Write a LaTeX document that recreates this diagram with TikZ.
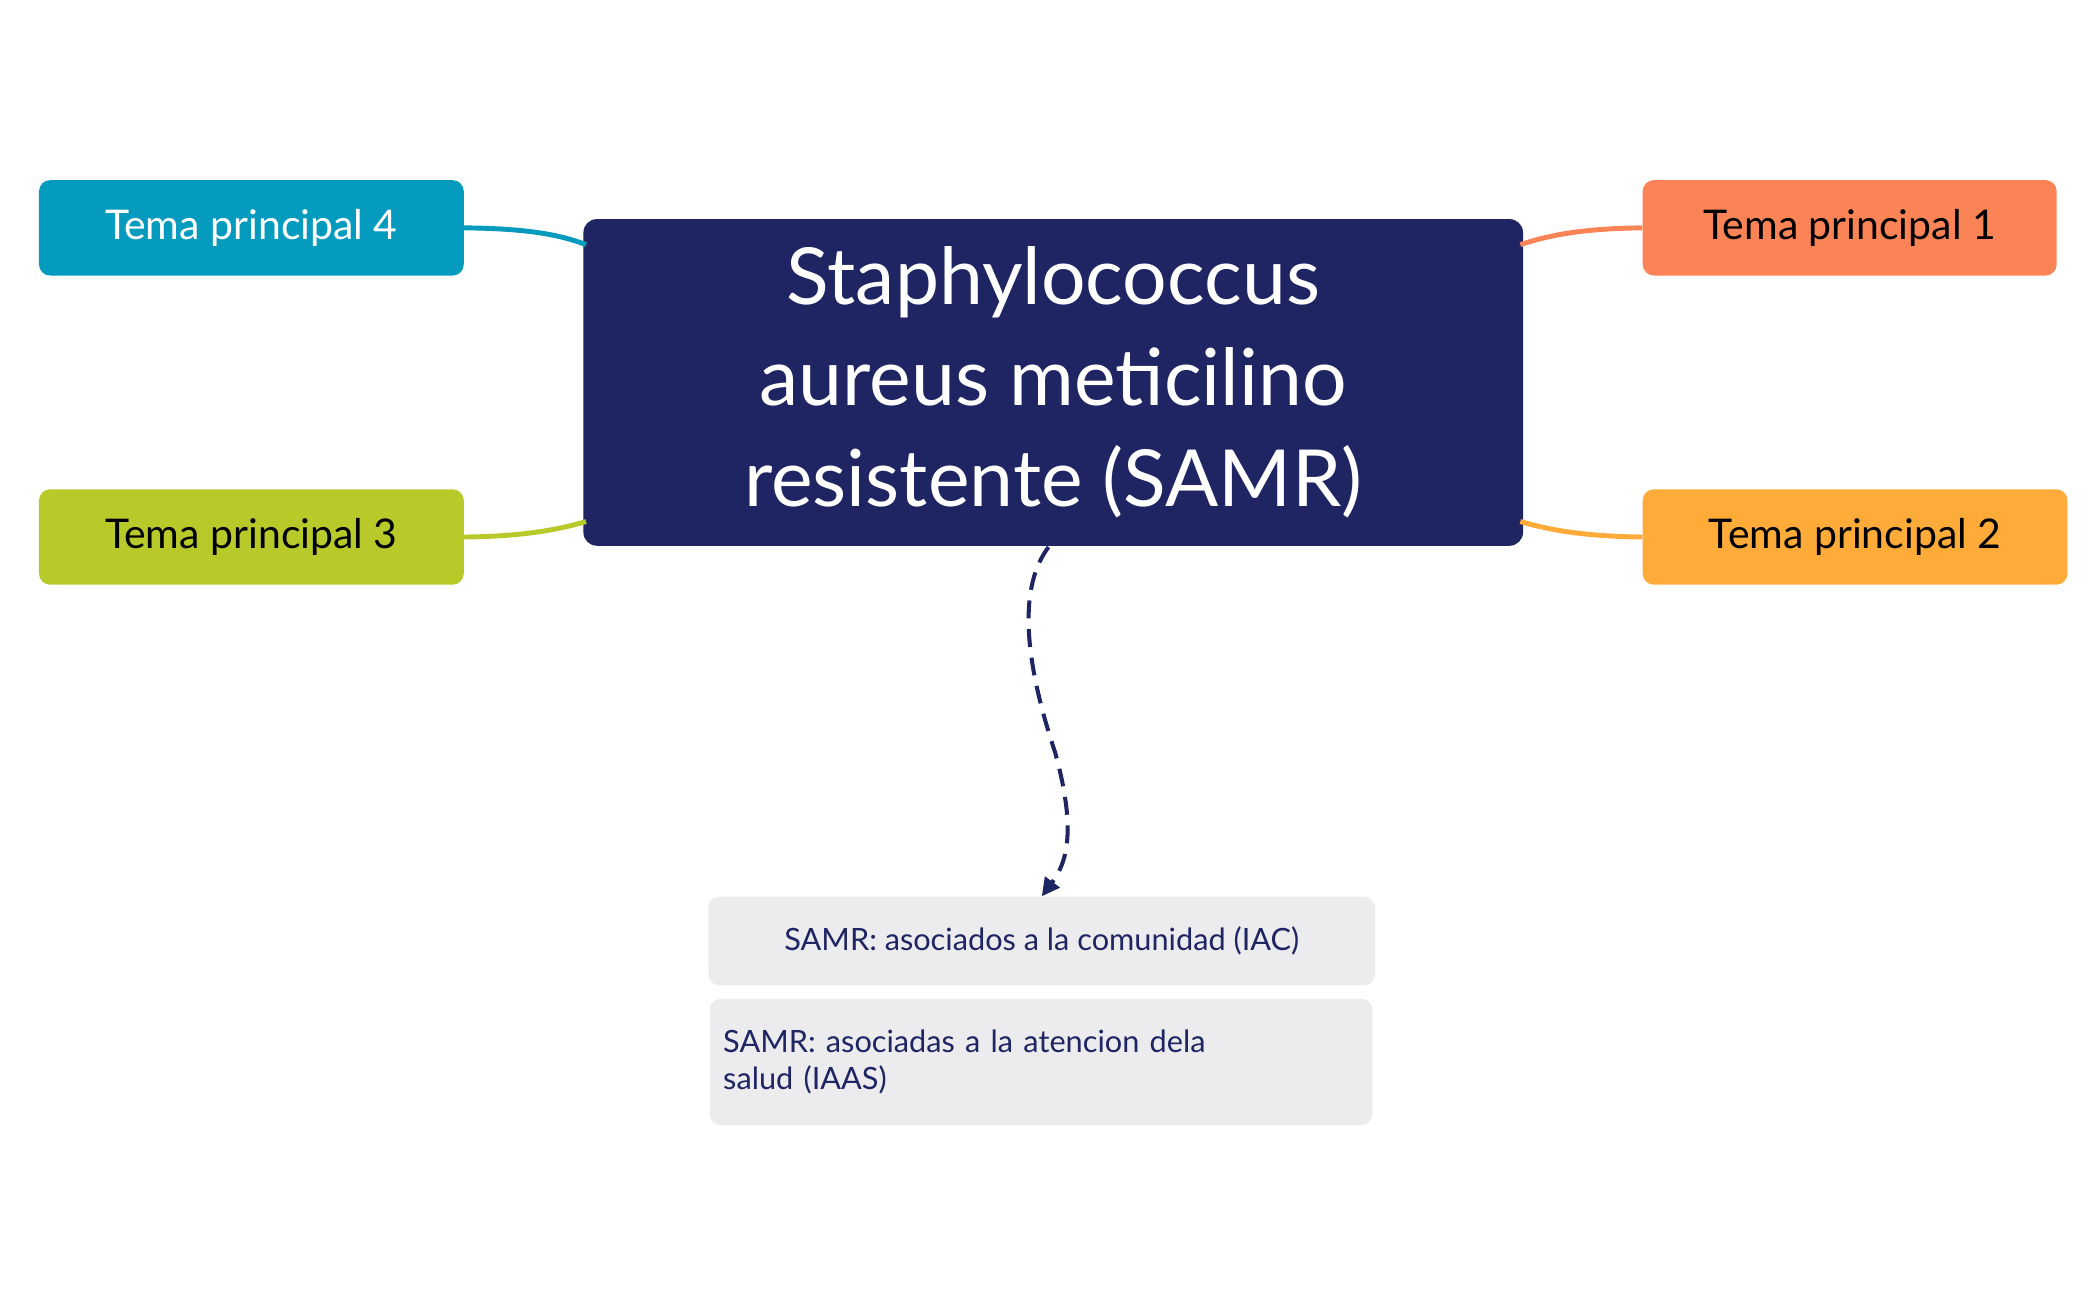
\documentclass[tikz,border=0pt]{standalone}
\usepackage{fontspec}
\setmainfont{Lato}
\usetikzlibrary{calc,arrows.meta}
\definecolor{navy}{HTML}{1F2563}
\definecolor{cblue}{HTML}{059BBE}
\definecolor{cgreen}{HTML}{B8C92A}
\definecolor{corange}{HTML}{FB8457}
\definecolor{cyellow}{HTML}{FEAB3A}
\definecolor{cgray}{HTML}{ECEBEE}
\tikzset{
 topic/.style={rounded corners=2.5mm, minimum height=71*0.3mm, inner sep=0pt, font=\fontsize{26}{30}\selectfont},
 sub/.style={fill=cgray, rounded corners=2.5mm, inner sep=0pt, font=\fontsize{19.5}{23}\selectfont, text=navy},
 link/.style={line width=1.1mm}
}
\begin{document}
\begin{tikzpicture}[x=0.3mm,y=-0.3mm]
\useasboundingbox (0,0) rectangle (1560,967);
\node[fill=navy, rounded corners=3mm, minimum width=699*0.3mm, minimum height=243*0.3mm, text=white, align=center, font=\fontsize{50}{64}\selectfont, inner sep=0pt] (c) at (783.5,284.5) {Staphylococcus\\aureus meticilino\\resistente (SAMR)};
\node[topic, fill=cblue, text=white, minimum width=316*0.3mm] (t4) at (187,169.5) {Tema principal 4};
\node[topic, fill=cgreen, minimum width=316*0.3mm] (t3) at (187,399.5) {Tema principal 3};
\node[topic, fill=corange, minimum width=308*0.3mm] (t1) at (1376,169.5) {Tema principal 1};
\node[topic, fill=cyellow, minimum width=316*0.3mm] (t2) at (1380,399.5) {Tema principal 2};
\node[sub, minimum width=496*0.3mm, minimum height=66*0.3mm] (s1) at (775,700) {SAMR: asociados a la comunidad (IAC)};
\node[sub, minimum width=493*0.3mm, minimum height=94*0.3mm, text width=473*0.3mm, align=left] (s2) at (774.5,790) {SAMR: asociadas a la atencion dela\\salud (IAAS)};
\begin{scope}[on background layer/.try]
\end{scope}
\coordinate (a4) at (436,182);
\coordinate (a3) at (436,388);
\coordinate (a1) at (1131,182);
\coordinate (a2) at (1131,388);
\draw[link, cblue] (t4.east) .. controls (390,170) and (415,174) .. (a4);
\draw[link, cgreen] (t3.east) .. controls (390,399) and (415,394) .. (a3);
\draw[link, corange] (t1.west) .. controls (1177,170) and (1152,175) .. (a1);
\draw[link, cyellow] (t2.west) .. controls (1177,399) and (1152,394) .. (a2);
\coordinate (d0) at (780,407);
\coordinate (d1) at (785,560);
\draw[navy, line width=0.9mm, dash pattern=on 4mm off 2.4mm, -{Triangle[length=4mm,width=4mm]}]
  (d0) .. controls (755,440) and (765,500) .. (d1) .. controls (800,615) and (795,640) .. (s1.north);
\end{tikzpicture}
\end{document}
